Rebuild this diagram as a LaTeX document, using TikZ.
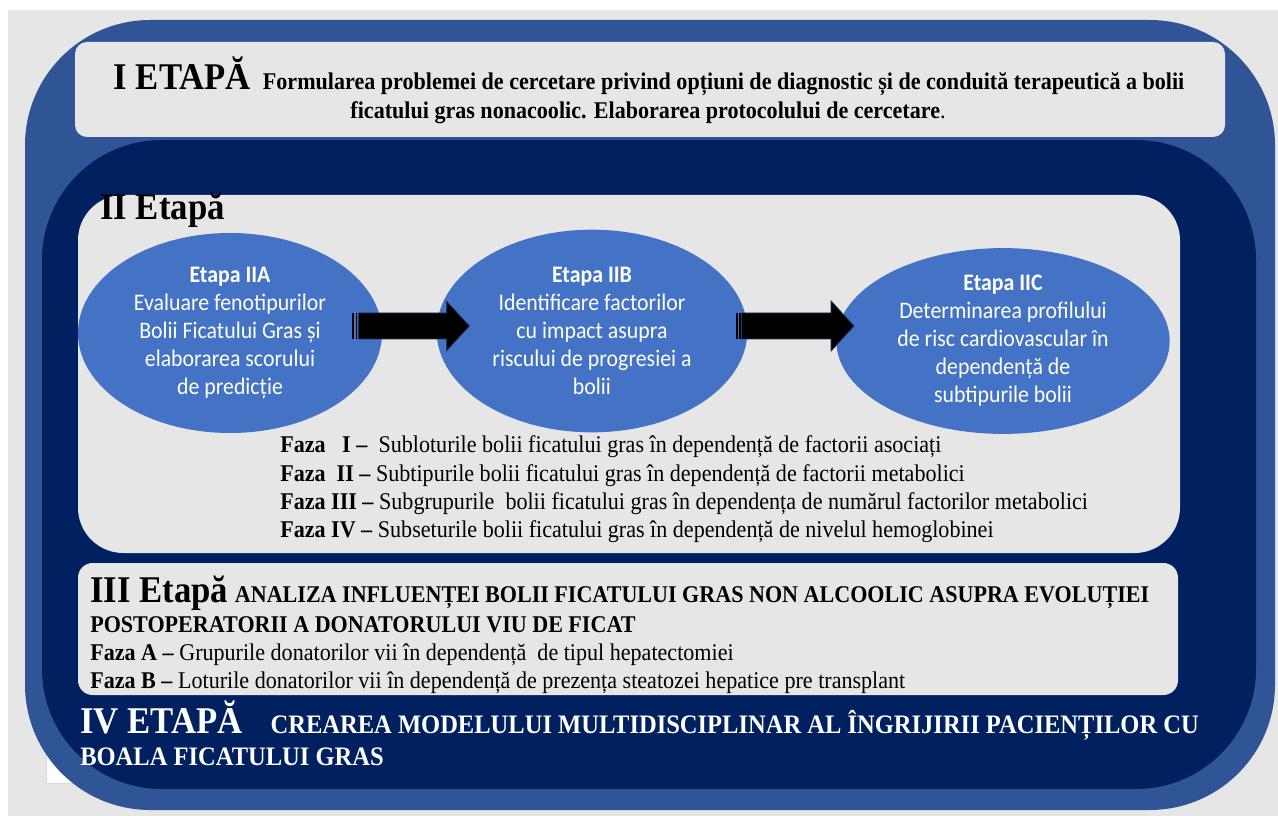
\documentclass[tikz,border=0pt]{standalone}
\usepackage{fontspec}
\setmainfont{Liberation Serif}[FakeStretch=0.92]
\newfontfamily\calibrifont{Carlito}[FakeStretch=0.92]
\usepackage{tikz}
\usetikzlibrary{positioning, shapes.geometric, calc}
\definecolor{pagegray}{HTML}{E7E6E6}
\definecolor{outerblue}{HTML}{2F5597}
\definecolor{navyblue}{HTML}{002060}
\definecolor{boxgray}{HTML}{E6E6E6}
\definecolor{ellblue}{HTML}{4472C4}
\definecolor{arrowedge}{HTML}{1F3864}
\newcommand{\etapafont}{\fontsize{28.3pt}{30pt}\selectfont\bfseries}
\newcommand{\subfont}{\fontsize{18pt}{23pt}\selectfont\bfseries}
\newcommand{\ivfont}{\fontsize{20pt}{24pt}\selectfont\bfseries}
\tikzset{
  etapabox/.style={fill=boxgray, draw=none},
  line/.style={anchor=base west, inner sep=0pt},
  faza/.style={line, font=\fontsize{18pt}{21pt}\selectfont},
  bubble/.style={ellipse, fill=ellblue, draw=none, text=white, align=center,
    inner sep=0pt, font=\calibrifont\fontsize{17.8pt}{21pt}\selectfont},
  blockarrow/.style={fill=black, draw=arrowedge, line width=0.6pt},
}
% striped block arrow from tail #1 to tip #2
\newcommand{\stripedarrow}[2]{%
  \fill[black] ($(#1)+(0,-13)$) rectangle ($(#1)+(2,13)$);
  \fill[black] ($(#1)+(3.5,-13)$) rectangle ($(#1)+(5,13)$);
  \draw[blockarrow] ($(#1)+(6,-13)$) -- ($(#2)+(-23,-13)$) -- ($(#2)+(-23,-25)$)
    -- (#2) -- ($(#2)+(-23,25)$) -- ($(#2)+(-23,13)$) -- ($(#1)+(6,13)$) -- cycle;
}

\begin{document}
\begin{tikzpicture}[x=0.75pt, y=-0.75pt]
\useasboundingbox (0,0) rectangle (1278,816);
\fill[white] (0,0) rectangle (1278,816);
\fill[pagegray] (8,10) rectangle (1278,816);
\draw[draw=black!15, fill=white] (46,735) rectangle (90,783);

%frames
\fill[outerblue, rounded corners=94pt] (25,20) rectangle (1275,810);
\fill[etapabox, rounded corners=9pt] (75,42) rectangle (1225,137);
\fill[navyblue, rounded corners=90pt] (42,140) rectangle (1256,789);
\fill[etapabox, rounded corners=34pt] (78,195) rectangle (1180,553);
\fill[etapabox, rounded corners=11pt] (78,563) rectangle (1178,695);

%Etapa I
\node[anchor=base, inner sep=0pt] (e1a) at (649,90)
  {{\etapafont I ETAPĂ}\hspace{9pt}{\subfont Formularea problemei de cercetare privind opțiuni de diagnostic și de conduită terapeutică a bolii}};
\node[anchor=base, inner sep=0pt] (e1b) at (648,119)
  {{\subfont ficatului gras nonacoolic. Elaborarea protocolului de cercetare}{\fontsize{18pt}{23pt}\selectfont.}};

%Etapa II
\node[line] (e2) at (100,220) {\etapafont II Etapă};
\node[bubble, minimum width=228pt, minimum height=150pt] (iia) at (230,333)
  {\textbf{Etapa IIA}\\Evaluare fenotipurilor\\Bolii Ficatului Gras și\\elaborarea scorului\\de predicție};
\node[bubble, minimum width=233pt, minimum height=152pt] (iib) at (592,331)
  {\textbf{Etapa IIB}\\Identificare factorilor\\cu impact asupra\\riscului de progresiei a\\bolii};
\node[bubble, minimum width=250pt, minimum height=138pt] (iic) at (1003,341)
  {\textbf{Etapa IIC}\\Determinarea profilului\\de risc cardiovascular în\\dependență de\\subtipurile bolii};
\coordinate (a1s) at ($(iia.east)+(-30,-7)$);
\coordinate (a1e) at ($(iib.west)+(33,-5)$);
\coordinate (a2s) at ($(iib.east)+(-12,-5)$);
\coordinate (a2e) at ($(iic.west)+(18,-15)$);
\stripedarrow{a1s}{a1e}
\stripedarrow{a2s}{a2e}

\node[faza] (f1) at (280,453) {\textbf{Faza \ \ I –} \ Subloturile bolii ficatului gras în dependență de factorii asociați};
\node[faza] (f2) at ($(f1.base west)+(0,28)$) {\textbf{Faza \ II –} Subtipurile bolii ficatului gras în dependență de factorii metabolici};
\node[faza] (f3) at ($(f2.base west)+(0,28)$) {\textbf{Faza III –} Subgrupurile \ bolii ficatului gras în dependența de numărul factorilor metabolici};
\node[faza] (f4) at ($(f3.base west)+(0,28)$) {\textbf{Faza IV –} Subseturile bolii ficatului gras în dependență de nivelul hemoglobinei};

%Etapa III
\node[line] (e3a) at (90,602)
  {{\etapafont III Etapă}\hspace{5pt}{\subfont ANALIZA INFLUENȚEI BOLII FICATULUI GRAS NON ALCOOLIC ASUPRA EVOLUȚIEI}};
\node[line] (e3b) at (90,632) {\subfont POSTOPERATORII A DONATORULUI VIU DE FICAT};
\node[faza] (fa) at (90,660) {\textbf{Faza A –} Grupurile donatorilor vii în dependență \ de tipul hepatectomiei};
\node[faza] (fb) at ($(fa.base west)+(0,28)$) {\textbf{Faza B –} Loturile donatorilor vii în dependență de prezența steatozei hepatice pre transplant};

%Etapa IV
\node[line, text=white] (e4a) at (80,733)
  {{\etapafont IV ETAPĂ}\hspace{21pt}{\ivfont CREAREA MODELULUI MULTIDISCIPLINAR AL ÎNGRIJIRII PACIENȚILOR CU}};
\node[line, text=white] (e4b) at (80,765) {\ivfont BOALA FICATULUI GRAS};
\end{tikzpicture}
\end{document}
